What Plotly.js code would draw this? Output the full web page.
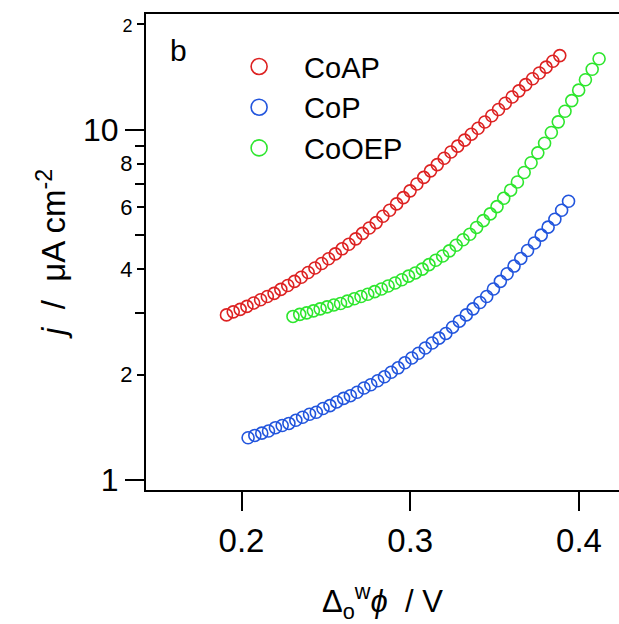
<!DOCTYPE html>
<html><head><meta charset="utf-8">
<script src="https://cdn.plot.ly/plotly-3.0.1.min.js"></script>
<style>html,body{margin:0;padding:0;background:#fff}</style>
</head><body><div id="chart" style="width:619px;height:624px"></div>
<script>
const seriesNames = ['CoAP', 'CoP', 'CoOEP'];
const seriesColors = ['#dd2222', '#2255dd', '#2ee62e'];

const coapX = [0.1911,0.1951,0.1992,0.2032,0.2072,0.2113,0.2153,0.2193,0.2233,0.2274,0.2314,0.2354,0.2395,0.2435,0.2475,0.2516,0.2556,0.2596,0.2636,0.2677,0.2717,0.2757,0.2798,0.2838,0.2878,0.2919,0.2959,0.2999,0.3039,0.3080,0.3120,0.3160,0.3201,0.3241,0.3281,0.3322,0.3362,0.3402,0.3442,0.3483,0.3523,0.3563,0.3604,0.3644,0.3684,0.3725,0.3765,0.3805,0.3845,0.3886];
const coapY = [2.96,3.02,3.07,3.13,3.20,3.27,3.34,3.41,3.50,3.59,3.69,3.79,3.91,4.03,4.15,4.28,4.42,4.57,4.71,4.88,5.06,5.24,5.43,5.66,5.89,6.14,6.40,6.69,7.00,7.31,7.63,7.95,8.29,8.64,8.98,9.34,9.71,10.10,10.52,10.96,11.42,11.90,12.40,12.91,13.45,13.98,14.52,15.09,15.68,16.28];

const copX = [0.2039,0.2079,0.2120,0.2160,0.2201,0.2241,0.2281,0.2322,0.2362,0.2403,0.2443,0.2483,0.2524,0.2564,0.2605,0.2645,0.2685,0.2726,0.2766,0.2807,0.2847,0.2887,0.2928,0.2968,0.3009,0.3049,0.3089,0.3130,0.3170,0.3211,0.3251,0.3291,0.3332,0.3372,0.3413,0.3453,0.3493,0.3534,0.3574,0.3615,0.3655,0.3695,0.3736,0.3776,0.3817,0.3857,0.3897,0.3938];
const copY = [1.32,1.34,1.36,1.38,1.41,1.43,1.45,1.48,1.51,1.54,1.56,1.60,1.63,1.67,1.71,1.74,1.78,1.83,1.87,1.92,1.97,2.03,2.09,2.16,2.23,2.30,2.38,2.46,2.54,2.62,2.73,2.84,2.96,3.08,3.21,3.34,3.51,3.69,3.88,4.08,4.29,4.52,4.75,5.00,5.27,5.55,5.89,6.25];

const cooepX = [0.2305,0.2345,0.2386,0.2426,0.2466,0.2507,0.2547,0.2587,0.2627,0.2668,0.2708,0.2748,0.2789,0.2829,0.2869,0.2910,0.2950,0.2990,0.3030,0.3071,0.3111,0.3151,0.3192,0.3232,0.3272,0.3313,0.3353,0.3393,0.3433,0.3474,0.3514,0.3554,0.3595,0.3635,0.3675,0.3716,0.3756,0.3796,0.3836,0.3877,0.3917,0.3957,0.3998,0.4038,0.4078,0.4119];
const cooepY = [2.93,2.97,3.00,3.04,3.08,3.12,3.16,3.19,3.24,3.29,3.34,3.39,3.45,3.51,3.58,3.65,3.73,3.82,3.90,4.00,4.12,4.24,4.36,4.51,4.68,4.85,5.03,5.26,5.50,5.75,6.03,6.37,6.72,7.09,7.55,8.05,8.59,9.15,9.82,10.53,11.29,12.11,12.97,13.89,14.88,15.94];

const xTickVals = [0.2, 0.3, 0.4];
const xTickText = ['0.2', '0.3', '0.4'];
const yMajorVals = [1, 10];
const yMajorText = ['1', '10'];
const yMinorVals = [3, 5, 7, 9];
const ySmallVals = [2, 4, 6, 8, 20];
const ySmallText = ['2', '4', '6', '8', '<span style="font-size:18px">2</span>'];

const FONT = 'Arial, "Liberation Sans", sans-serif';
const xs = [coapX, copX, cooepX];
const ys = [coapY, copY, cooepY];

const data = [];
for (let i = 0; i < 3; i++) {
  data.push({
    type: 'scatter', mode: 'markers', x: xs[i], y: ys[i], name: seriesNames[i],
    showlegend: false, legendgroup: seriesNames[i],
    marker: {symbol: 'circle-open', size: 12, color: seriesColors[i], line: {width: 1.6, color: seriesColors[i]}},
    hoverinfo: 'skip'
  });
}
for (let i = 0; i < 3; i++) {
  data.push({
    type: 'scatter', mode: 'markers', x: [null], y: [null], name: seriesNames[i],
    showlegend: true, legendgroup: seriesNames[i],
    marker: {symbol: 'circle-open', size: 20, color: seriesColors[i], line: {width: 1.6, color: seriesColors[i]}}
  });
}
data.push({type: 'scatter', x: [], y: [], yaxis: 'y2', showlegend: false});

const yRange = [Math.log10(0.936), Math.log10(21.4)];

const layout = {
  width: 619, height: 624,
  margin: {l: 146, r: 0, t: 14, b: 134},
  paper_bgcolor: '#fff', plot_bgcolor: '#fff',
  font: {family: FONT, color: '#000'},
  showlegend: true,
  legend: {x: 0.144, y: 0.943, xanchor: 'left', yanchor: 'top', itemwidth: 80,
           font: {size: 29, family: FONT, color: '#000'}, bgcolor: 'rgba(0,0,0,0)', tracegroupgap: 0},
  xaxis: {
    range: [0.1434, 0.4237], showgrid: false, zeroline: false,
    showline: true, linewidth: 2, linecolor: '#000', mirror: true,
    ticks: 'outside', ticklen: 19, tickwidth: 2, tickcolor: '#000',
    tickmode: 'array', tickvals: xTickVals, ticktext: xTickText,
    tickfont: {size: 33, family: FONT}, ticklabelstandoff: 1,
    title: {text: 'Δ<sub>o</sub><sup>w</sup><i>ϕ</i>  / V', font: {size: 31, family: FONT}, standoff: 33}
  },
  yaxis: {
    type: 'log', range: yRange, showgrid: false, zeroline: false,
    showline: true, linewidth: 2, linecolor: '#000', mirror: false,
    ticks: 'outside', ticklen: 19, tickwidth: 2, tickcolor: '#000',
    tickmode: 'array', tickvals: yMajorVals, ticktext: yMajorText,
    tickfont: {size: 32, family: FONT},
    minor: {tickmode: 'array', tickvals: yMinorVals, ticks: 'outside', ticklen: 9, tickwidth: 2, tickcolor: '#000', showgrid: false},
    title: {text: '<i>j</i>  /  μA cm<sup>-2</sup>', font: {size: 33, family: FONT}, standoff: 7}
  },
  yaxis2: {
    type: 'log', range: yRange, overlaying: 'y', anchor: 'x', side: 'left',
    showgrid: false, zeroline: false, showline: false,
    ticks: 'outside', ticklen: 8, tickwidth: 2, tickcolor: '#000',
    tickmode: 'array', tickvals: ySmallVals, ticktext: ySmallText,
    tickfont: {size: 22, family: FONT}
  },
  annotations: [{
    text: 'b', xref: 'paper', yref: 'paper', x: 0.068, y: 0.924,
    xanchor: 'center', yanchor: 'middle', showarrow: false, font: {size: 30, family: FONT, color: '#000'}
  }]
};

Plotly.newPlot('chart', data, layout, {displayModeBar: false, staticPlot: true});
</script></body></html>
